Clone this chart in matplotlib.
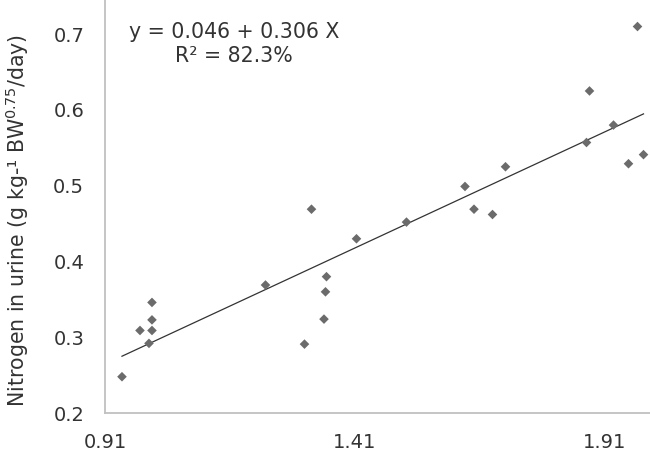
import numpy as np
import matplotlib.pyplot as plt

# values
bw_x = [0.944, 0.980, 0.998, 1.004, 1.004, 1.004, 1.231, 1.309, 1.323, 1.348,
        1.351, 1.353, 1.413, 1.513, 1.630, 1.648, 1.685, 1.711, 1.873, 1.879,
        1.927, 1.957, 1.975, 1.987]
n_urine = [0.248, 0.309, 0.292, 0.309, 0.323, 0.346, 0.369, 0.291, 0.469, 0.324,
           0.360, 0.380, 0.430, 0.452, 0.499, 0.469, 0.462, 0.525, 0.557, 0.625,
           0.580, 0.529, 0.710, 0.541]
x_ticks = [0.91, 1.41, 1.91]
y_ticks = [0.2, 0.3, 0.4, 0.5, 0.6, 0.7]

txt_col = '#333333'

fig = plt.figure(figsize=(6.5, 4.59), dpi=100)
ax = fig.add_axes([0.1615, 0.1, 0.8385, 0.9])

ax.scatter(bw_x, n_urine, marker='D', s=24, color='#6b6b6b', edgecolors='none', zorder=3)

# linear fit drawn over the data range
slope, intercept = np.polyfit(bw_x, n_urine, 1)
xs = np.array([min(bw_x), max(bw_x)])
ax.plot(xs, intercept + slope * xs, color='#333333', lw=0.9, zorder=2)

ax.set_xlim(0.91, 2.0)
ax.set_ylim(0.2, 0.745)
ax.set_xticks(x_ticks)
ax.set_xticklabels([f'{v:.2f}' for v in x_ticks])
ax.set_yticks(y_ticks)
ax.set_yticklabels([f'{v:.1f}' for v in y_ticks])
ax.tick_params(length=0, labelsize=14, colors=txt_col)
ax.tick_params(axis='y', pad=15)
ax.tick_params(axis='x', pad=14)

for s in ['top', 'right']:
    ax.spines[s].set_visible(False)
for s in ['left', 'bottom']:
    ax.spines[s].set_color('#c0c0c0')
    ax.spines[s].set_linewidth(1.3)

ax.set_ylabel('Nitrogen in urine (g kg-¹ BW$^{0.75}$/day)', fontsize=14.8, color=txt_col)
ax.yaxis.set_label_coords(-0.135, 0.467)

ax.text(1.168, 0.703, 'y = 0.046 + 0.306 X', fontsize=14.8, ha='center', va='center', color=txt_col)
ax.text(1.168, 0.671, 'R² = 82.3%', fontsize=14.8, ha='center', va='center', color=txt_col)

fig.savefig('out.png', dpi=100)
